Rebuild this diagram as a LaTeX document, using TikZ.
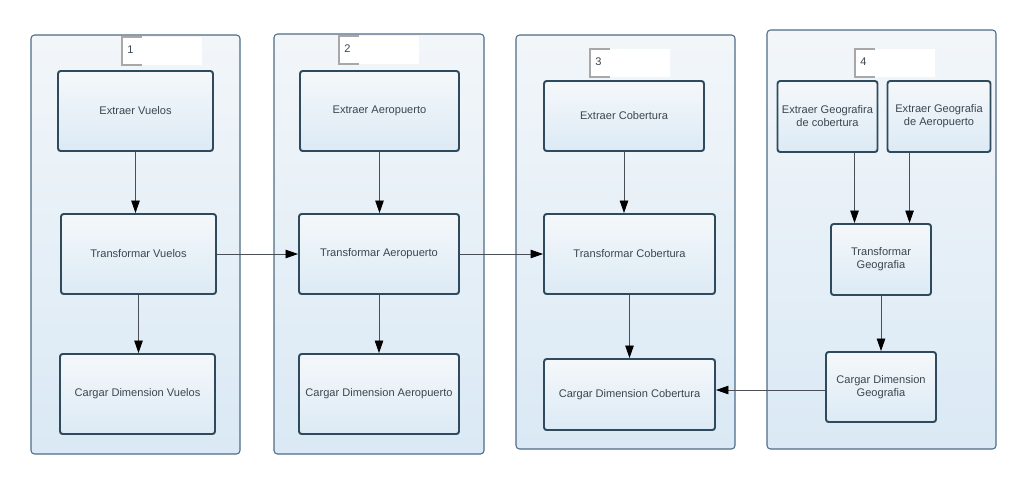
\documentclass[tikz,border=0pt]{standalone}
\usepackage{fontspec}
\setmainfont{Liberation Sans}
\usetikzlibrary{arrows.meta,calc}
\definecolor{lanefg}{HTML}{4D6C87}
\definecolor{lanetop}{HTML}{F2F6F9}
\definecolor{lanebot}{HTML}{DAE9F5}
\definecolor{boxfg}{HTML}{2F4A5D}
\definecolor{boxtop}{HTML}{F5F8FA}
\definecolor{boxbot}{HTML}{DCEAF5}
\definecolor{txt}{HTML}{3C4650}
\definecolor{linec}{HTML}{4A4F55}
\definecolor{tabc}{HTML}{A8A8A8}
\begin{document}
\begin{tikzpicture}[x=0.02cm, y=-0.02cm,
  lane/.style={draw=lanefg, line width=0.6pt, rounded corners=2pt,
    top color=lanetop, bottom color=lanebot},
  stepbox/.style={draw=boxfg, line width=1.1pt, rounded corners=1.5pt,
    top color=boxtop, bottom color=boxbot, text=txt, align=center,
    font=\fontsize{6.3}{7.4}\selectfont, inner sep=0pt},
  flow/.style={draw=linec, line width=0.5pt,
    -{Triangle[length=0.25cm,width=0.17cm,color=black]}},
  tab/.style={draw=tabc, line width=1pt}]
  \useasboundingbox (0,0) rectangle (1026,484);
  % lanes
  \path[lane] (31,35) rectangle (240,454);
  \path[lane] (274,34) rectangle (484,454);
  \path[lane] (516,35) rectangle (735,449);
  \path[lane] (767,30) rectangle (996,449);
  % lane numbers
  \foreach \x/\y/\n in {122/37/1, 339/36/2, 590/49/3, 855/49/4} {
    \fill[white] (\x,\y) rectangle ++(80,28);
    \draw[tab] (\x+20,\y) -- (\x,\y) -- (\x,\y+28) -- (\x+20,\y+28);
    \path (\x+5,\y+13) node[anchor=west, text=txt, inner sep=0pt,
      font=\fontsize{6.3}{7.4}\selectfont] (num\n) {\n};
  }
  % lane 1
  \node[stepbox, minimum width=3.1cm, minimum height=1.6cm] (exvuelos) at (135.5,111) {Extraer Vuelos};
  \node[stepbox, minimum width=3.1cm, minimum height=1.6cm] (trvuelos) at (138.5,254) {Transformar Vuelos};
  \node[stepbox, minimum width=3.1cm, minimum height=1.6cm] (cavuelos) at (137.5,394) {Cargar Dimension Vuelos};
  % lane 2
  \node[stepbox, minimum width=3.18cm, minimum height=1.6cm] (exaero) at (379.5,111) {Extraer Aeropuerto};
  \node[stepbox, minimum width=3.2cm, minimum height=1.6cm] (traero) at (379,254) {Transformar Aeropuerto};
  \node[stepbox, minimum width=3.2cm, minimum height=1.6cm] (caaero) at (379,394) {Cargar Dimension Aeropuerto};
  % lane 3
  \node[stepbox, minimum width=3.2cm, minimum height=1.4cm] (excob) at (624,116) {Extraer Cobertura};
  \node[stepbox, minimum width=3.42cm, minimum height=1.6cm] (trcob) at (629.5,254) {Transformar Cobertura};
  \node[stepbox, minimum width=3.42cm, minimum height=1.42cm] (cacob) at (629.5,394.5) {Cargar Dimension Cobertura};
  % lane 4
  \node[stepbox, minimum width=2.0cm, minimum height=1.42cm] (exgeocob) at (827.5,116.5) {Extraer Geografira\\de cobertura};
  \node[stepbox, minimum width=2.06cm, minimum height=1.42cm] (exgeoaero) at (939,116.5) {Extraer Geografia\\de Aeropuerto};
  \node[stepbox, minimum width=2.0cm, minimum height=1.42cm] (trgeo) at (881,259.5) {Transformar\\Geografia};
  \node[stepbox, minimum width=2.2cm, minimum height=1.4cm] (cageo) at (881,387) {Cargar Dimension\\Geografia};
  \coordinate (ingeo1) at ($(trgeo.north)!0.52!(trgeo.north west)$);
  \coordinate (ingeo2) at ($(trgeo.north)!0.56!(trgeo.north east)$);
  % connectors
  \draw[flow] (exvuelos.south) -- (exvuelos.south |- trvuelos.north);
  \draw[flow] (trvuelos.south) -- (trvuelos.south |- cavuelos.north);
  \draw[flow] (exaero.south) -- (exaero.south |- traero.north);
  \draw[flow] (traero.south) -- (traero.south |- caaero.north);
  \draw[flow] (excob.south) -- (excob.south |- trcob.north);
  \draw[flow] (trcob.south) -- (trcob.south |- cacob.north);
  \draw[flow] (exgeocob.south -| ingeo1) -- (ingeo1);
  \draw[flow] (exgeoaero.south -| ingeo2) -- (ingeo2);
  \draw[flow] (trgeo.south) -- (trgeo.south |- cageo.north);
  \draw[flow] (trvuelos.east) -- (traero.west);
  \draw[flow] (traero.east) -- (trcob.west);
  \draw[flow] ([yshift=-0.06cm]cageo.west) -- ([yshift=-0.06cm]cageo.west -| cacob.east);
\end{tikzpicture}
\end{document}
